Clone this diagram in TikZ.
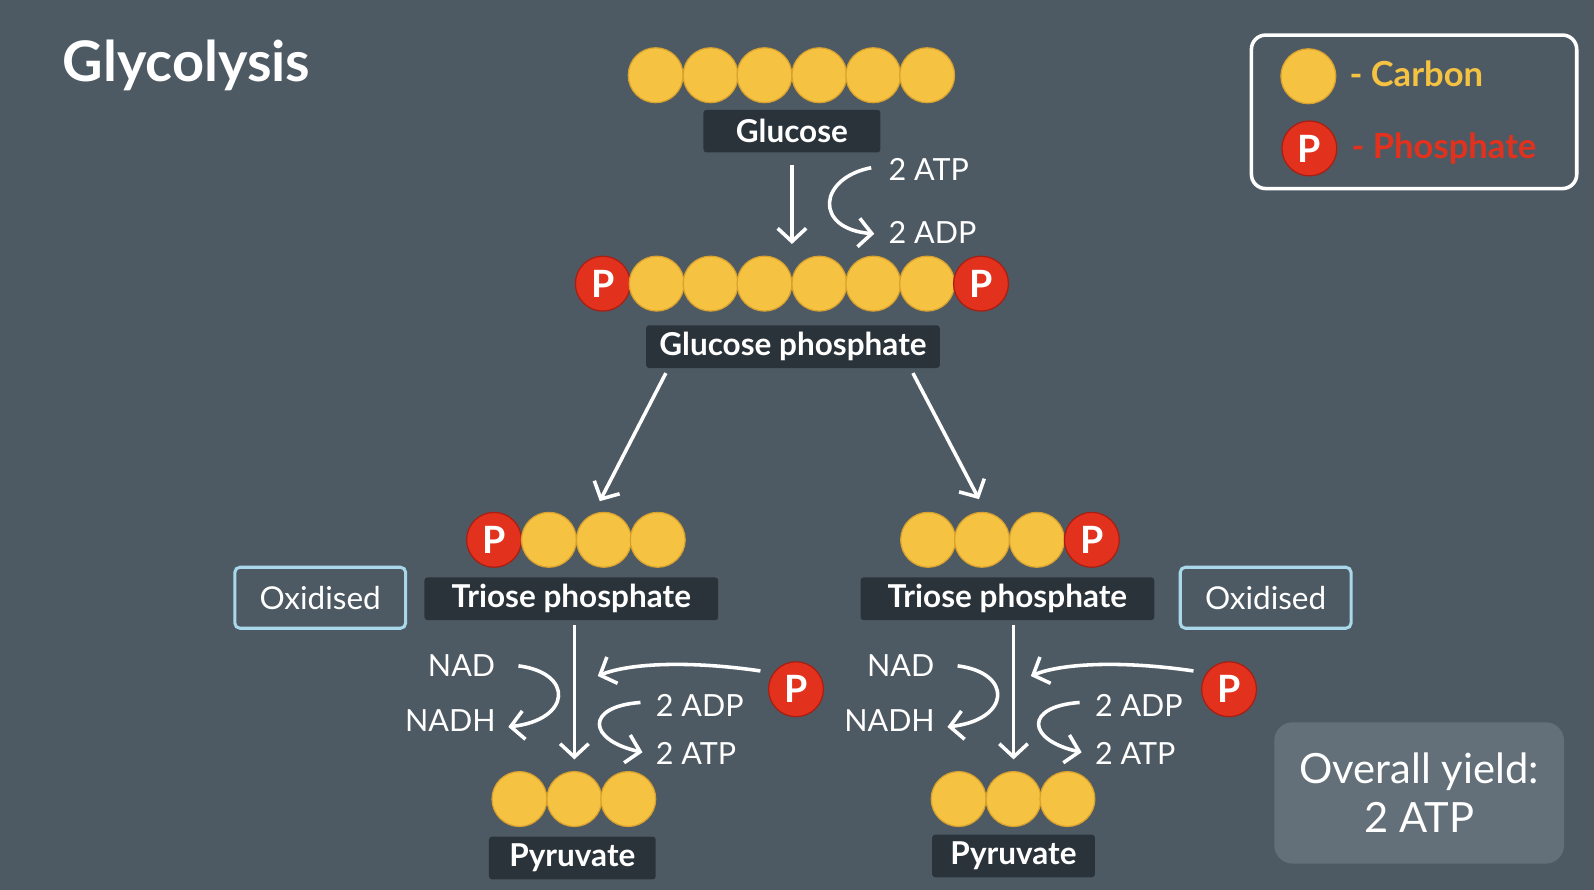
\documentclass[tikz,border=0pt]{standalone}
\usepackage{fontspec}
\setmainfont{Lato}
\usetikzlibrary{arrows.meta}
\definecolor{bg}{HTML}{4E5A63}
\definecolor{cfill}{HTML}{F5C242}
\definecolor{cdraw}{HTML}{D9A22E}
\definecolor{pfill}{HTML}{E2311D}
\definecolor{pdraw}{HTML}{A81E12}
\definecolor{lab}{HTML}{2B333A}
\definecolor{oxb}{HTML}{A8D8EA}
\definecolor{yieldc}{HTML}{637079}
\begin{document}
\begin{tikzpicture}[x=1pt,y=-1pt,
 carbon/.style={circle,fill=cfill,draw=cdraw,line width=1.2,minimum size=54,inner sep=0},
 phos/.style={circle,fill=pfill,draw=pdraw,line width=1.2,minimum size=54,inner sep=0,text=white,font=\fontsize{37}{37}\selectfont\bfseries},
 lab/.style={fill=lab,rounded corners=3,text=white,font=\fontsize{31}{32}\selectfont\bfseries,inner sep=0,minimum height=42},
 ox/.style={draw=oxb,line width=3,rounded corners=5,text=white,font=\fontsize{31}{32}\selectfont,minimum width=168,minimum height=60},
 txt/.style={text=white,font=\fontsize{30}{30}\selectfont,inner sep=0},
 arr/.style={white,line width=3.5,-{Straight Barb[length=13,width=28,line width=3.5]}}]
\fill[bg] (0,0) rectangle (1568,875);
\useasboundingbox (0,0) rectangle (1568,875);
\node[anchor=west,text=white,font=\fontsize{55}{56}\selectfont\bfseries] (title) at (58,64) {Glycolysis};
% glucose
\foreach \i/\x in {1/645,2/699,3/752,4/806,5/859,6/912} \node[carbon] (g\i) at (\x,74) {};
\node[lab,minimum width=174] (glab) at (779,129) {Glucose};
\coordinate (a1s) at (779,162); \coordinate (a1e) at (779,240);
\draw[arr] (a1s) -- (a1e);
\coordinate (c1s) at (857,165); \coordinate (c1e) at (860,230);
\draw[arr] (c1s) .. controls (805,175) and (800,225) .. (c1e);
\node[txt,anchor=west] (atp1) at (874,167) {2 ATP};
\node[txt,anchor=west] (adp1) at (874,229) {2 ADP};
% glucose phosphate
\node[phos] (gp0) at (593,279) {P};
\foreach \i/\x in {1/646,2/699,3/752,4/806,5/859,6/912} \node[carbon] (gp\i) at (\x,279) {};
\node[phos] (gp7) at (965,279) {P};
\node[lab,minimum width=289] (gplab) at (780,341) {Glucose phosphate};
\coordinate (l1) at (655,367); \coordinate (l2) at (590,493);
\coordinate (r1) at (898,367); \coordinate (r2) at (963,491);
\draw[arr] (l1) -- (l2); \draw[arr] (r1) -- (r2);
% left triose
\node[phos] (lt0) at (486,531) {P};
\foreach \i/\x in {1/540,2/594,3/647} \node[carbon] (lt\i) at (\x,531) {};
\node[lab,minimum width=289] (ltlab) at (562,589) {Triose phosphate};
\node[ox] (lox) at (315,588) {Oxidised};
% right triose
\foreach \i/\x in {1/913,2/966,3/1020} \node[carbon] (rt\i) at (\x,531) {};
\node[phos] (rt4) at (1074,531) {P};
\node[lab,minimum width=289] (rtlab) at (991,589) {Triose phosphate};
\node[ox] (rox) at (1245,588) {Oxidised};
% lower halves
\foreach \s/\dx/\px in {L/0/783,R/432/1209}{
 \begin{scope}[xshift=\dx]
 \coordinate (m\s1) at (565,615); \coordinate (m\s2) at (565,747);
 \draw[arr] (m\s1) -- (m\s2);
 \node[txt] (nad\s) at (454,655) {NAD};
 \node[txt] (nadh\s) at (443,709) {NADH};
 \coordinate (n\s1) at (510,655); \coordinate (n\s2) at (500,715);
 \draw[arr] (n\s1) .. controls (565,662) and (562,708) .. (n\s2);
 \coordinate (q\s1) at (630,691); \coordinate (q\s2) at (632,740);
 \draw[arr] (q\s1) .. controls (575,695) and (578,728) .. (q\s2);
 \node[txt,anchor=west] (adp\s) at (645,694) {2 ADP};
 \node[txt,anchor=west] (atp\s) at (645,741) {2 ATP};
 \end{scope}
 \node[phos] (p\s) at (\px,678) {P};
}
\coordinate (pl1) at (748,660); \coordinate (pl2) at (588,665);
\draw[arr] (pl1) .. controls (680,650) and (620,652) .. (pl2);
\coordinate (pr1) at (1174,660); \coordinate (pr2) at (1014,665);
\draw[arr] (pr1) .. controls (1106,650) and (1046,652) .. (pr2);
% pyruvates
\foreach \i/\x in {1/511,2/565,3/618} \node[carbon] (lp\i) at (\x,786) {};
\node[lab,minimum width=164] (lplab) at (563,844) {Pyruvate};
\foreach \i/\x in {1/943,2/997,3/1050} \node[carbon] (rp\i) at (\x,786) {};
\node[lab,minimum width=160] (rplab) at (997,842) {Pyruvate};
% legend
\node[draw=white,line width=3.5,rounded corners=14,minimum width=320,minimum height=151] (leg) at (1391,110) {};
\node[carbon] (legc) at (1287,75) {};
\node[anchor=west,text=cfill,font=\fontsize{34}{34}\selectfont\bfseries] (legct) at (1324,73) {- Carbon};
\node[phos] (legp) at (1288,146) {P};
\node[anchor=west,text=pfill,font=\fontsize{34}{34}\selectfont\bfseries] (legpt) at (1326,146) {- Phosphate};
% yield
\node[fill=yieldc,rounded corners=18,minimum width=285,minimum height=139,text=white,align=center,font=\fontsize{41}{48}\selectfont] (yield) at (1396,780) {Overall yield:\\2 ATP};
\end{tikzpicture}
\end{document}
